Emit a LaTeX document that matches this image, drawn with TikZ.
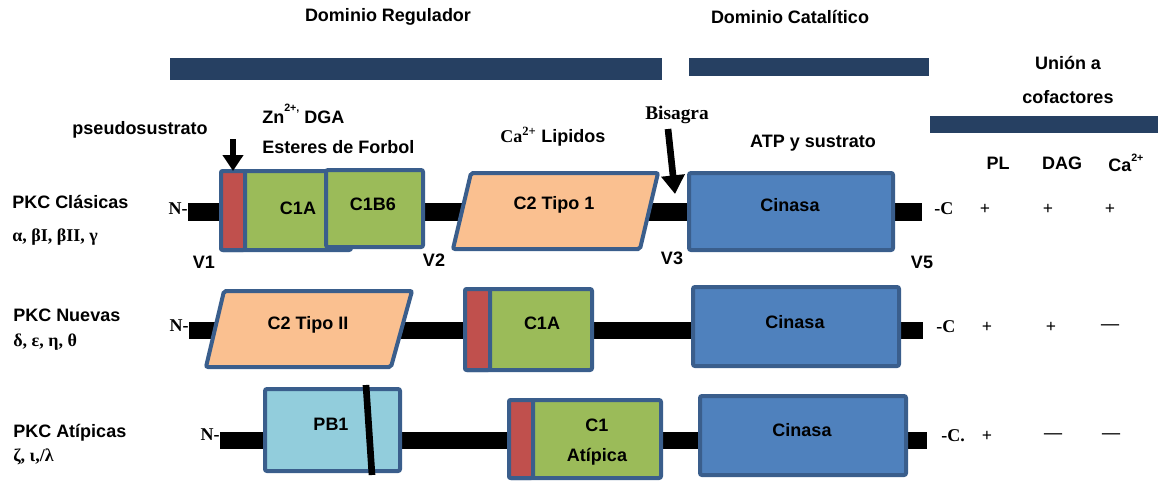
\documentclass[tikz,border=0pt]{standalone}
\usepackage{fontspec}
\setmainfont{Liberation Sans}
\newfontfamily\cmb{Liberation Serif}
\usetikzlibrary{arrows.meta,fit}
\definecolor{navy}{RGB}{38,64,98}
\definecolor{bordc}{RGB}{58,94,140}
\definecolor{dgreen}{RGB}{155,187,89}
\definecolor{dred}{RGB}{192,80,77}
\definecolor{peach}{RGB}{250,192,144}
\definecolor{kblue}{RGB}{79,129,189}
\definecolor{lblue}{RGB}{146,205,220}
\begin{document}
\begin{tikzpicture}[x=0.75pt,y=-0.75pt,
  txt/.style={font=\bfseries\fontsize{13.5}{16}\selectfont, inner sep=0pt},
  stxt/.style={font=\cmb\bfseries\fontsize{13.5}{16}\selectfont, inner sep=0pt},
  ntxt/.style={font=\cmb\bfseries\fontsize{13.5}{15}\selectfont, inner sep=0pt},
  dombox/.style={draw=bordc, line width=3pt, rounded corners=1.5pt, inner sep=0pt, outer sep=0pt},
  barbox/.style={fill=navy, inner sep=0pt, outer sep=0pt},
  backbone/.style={fill=black, inner sep=0pt, outer sep=0pt},
  bigarrow/.style={line width=4.5pt, -{Triangle[width=15pt,length=12pt]}}]
\useasboundingbox (0,0) rectangle (1158,482);

% header bars
\node[barbox, fit={(170,58) (662,80)}] (regbar) {};
\node[barbox, fit={(689,58) (929,76)}] (catbar) {};
\node[barbox, fit={(930,116) (1158,133)}] (cofbar) {};
\node[txt] (domreg) at (388,17) {Dominio Regulador};
\node[txt] (domcat) at (790,17) {Dominio Catalítico};
\node[txt] (union) at (1068,63) {Unión a};
\node[txt] (cofac) at (1068,97) {cofactores};
\node[txt] (pl) at (998,163) {PL};
\node[txt] (dag) at (1062,163) {DAG};
\node[txt, anchor=west] (ca) at (1108,163) {Ca\raisebox{8pt}{\fontsize{8}{8}\selectfont 2+}};

% backbones
\node[backbone, fit={(188,203) (922,221)}] (bb1) {};
\node[backbone, fit={(189,322) (923,339)}] (bb2) {};
\node[backbone, fit={(220,432) (927,449)}] (bb3) {};

% row 1
\node[dombox, fill=dgreen, fit={(221,171) (351,250)}] (c1a1) {};
\node[dombox, fill=dred, fit={(221,171) (245,250)}] (red1) {};
\node[dombox, fill=dgreen, fit={(326,170) (423,247)}] (c1b6) {};
\draw[dombox, fill=peach] (471,173) -- (658,173) -- (640,249) -- (453,249) -- cycle;
\node[dombox, fill=kblue, fit={(689,173) (893,250)}] (cin1) {};
\node[txt] (c1a1t) at (298,208) {C1A};
\node[txt] (c1b6t) at (373,204) {C1B6};
\node[txt] (c2t1) at (554,205) {C2 Tipo 1};
\node[txt] (cin1t) at (790,205) {Cinasa};

% row 2
\draw[dombox, fill=peach] (224,291) -- (412,291) -- (391,367) -- (206,367) -- cycle;
\node[dombox, fill=dgreen, fit={(465,289) (592,370)}] (c1a2) {};
\node[dombox, fill=dred, fit={(465,289) (490,370)}] (red2) {};
\node[dombox, fill=kblue, fit={(693,287) (899,366)}] (cin2) {};
\node[txt] (c2t2) at (308,325) {C2 Tipo II};
\node[txt] (c1a2t) at (542,323) {C1A};
\node[txt] (cin2t) at (795,322) {Cinasa};

% row 3
\node[dombox, fill=lblue, fit={(265,389) (400,471)}] (pb1) {};
\coordinate (sl0) at (366,385);
\coordinate (sl1) at (372,475);
\draw[line width=5pt] (sl0) -- (sl1);
\node[dombox, fill=dgreen, fit={(509,400) (661,478)}] (c1at) {};
\node[dombox, fill=dred, fit={(509,400) (533,478)}] (red3) {};
\node[dombox, fill=kblue, fit={(700,396) (906,475)}] (cin3) {};
\node[txt] (pb1t) at (331,424) {PB1};
\node[txt] (c1t) at (597,425) {C1};
\node[txt] (atipt) at (597,457) {Atípica};
\node[txt] (cin3t) at (802,430) {Cinasa};

% upper annotations
\node[txt] (pseudo) at (140,130) {pseudosustrato};
\coordinate (ps0) at (233,139);
\draw[bigarrow] (ps0) -- (red1.north);
\node[txt, anchor=west] (zn) at (262,114) {Zn\raisebox{9pt}{\fontsize{8}{8}\selectfont 2+,} DGA};
\node[txt, anchor=west] (ester) at (262,147) {Esteres de Forbol};
\node[txt, anchor=west] (calip) at (500,137) {{\cmb Ca\textsuperscript{2+}} Lipidos};
\node[stxt, font=\cmb\bfseries\fontsize{14.5}{16}\selectfont] (bisagra) at (677,115) {Bisagra};
\coordinate (bis0) at (668,129);
\coordinate (bis1) at (675,194);
\draw[bigarrow, line width=5pt, -{Triangle[width=17pt,length=14pt]}] (bis0) -- (bis1);
\node[txt] (atp) at (813,143) {ATP y sustrato};

% V labels
\node[txt] (v1) at (204,262) {V1};
\node[txt] (v2) at (434,260) {V2};
\node[txt] (v3) at (672,258) {V3};
\node[txt] (v5) at (922,262) {V5};

% left labels
\node[txt, anchor=west] (cls) at (12,202) {PKC Clásicas};
\node[stxt, anchor=west] (clsg) at (12,237) {α, βI, βII, γ};
\node[txt, anchor=west] (nue) at (13,315) {PKC Nuevas};
\node[stxt, anchor=west] (nueg) at (13,342) {δ, ε, η, θ};
\node[txt, anchor=west] (ati) at (13,433) {PKC Atípicas};
\node[stxt, anchor=west] (atig) at (13,457) {ζ, ι,/λ};

% termini
\node[ntxt, anchor=east] (n1) at (188,209) {N-};
\node[ntxt, anchor=east] (n2) at (189,326) {N-};
\node[ntxt, anchor=east] (n3) at (220,435) {N-};
\node[ntxt, anchor=west] (ce1) at (934,209) {-C};
\node[ntxt, anchor=west] (ce2) at (936,327) {-C};
\node[ntxt, anchor=west] (ce3) at (941,436) {-C.};

% cofactor table
\node[ntxt] (r1a) at (985,209) {+};
\node[ntxt] (r1b) at (1048,209) {+};
\node[ntxt] (r1c) at (1110,209) {+};
\node[ntxt] (r2a) at (987,327) {+};
\node[ntxt] (r2b) at (1051,327) {+};
\node[ntxt] (r2c) at (1110,327) {—};
\node[ntxt] (r3a) at (987,436) {+};
\node[ntxt] (r3b) at (1053,436) {—};
\node[ntxt] (r3c) at (1111,436) {—};
\end{tikzpicture}
\end{document}
